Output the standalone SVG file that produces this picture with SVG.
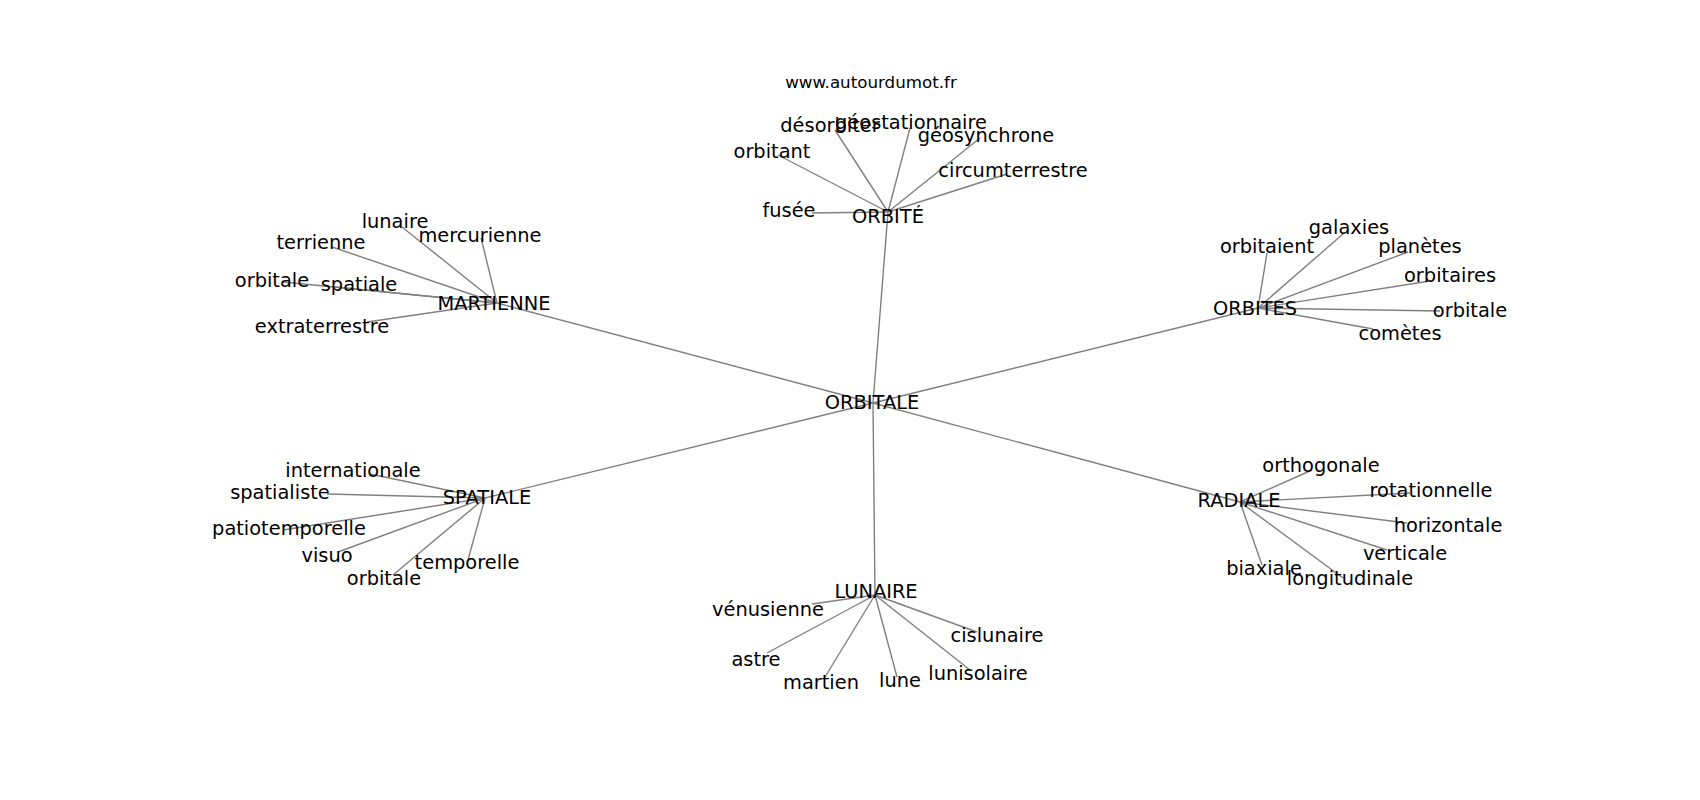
<svg xmlns="http://www.w3.org/2000/svg" width="1700" height="800" viewBox="0 0 1700 800">
<style>
.e{stroke:#808080;stroke-width:1.4;fill:none}
text{font-family:"DejaVu Sans","Liberation Sans",sans-serif;font-size:19.4px;fill:#000;text-anchor:middle}
.t{font-size:16.7px}
</style>
<rect width="1700" height="800" fill="#fff"/>
<g id="connectors">
<line class="e" x1="873" y1="403" x2="497" y2="303"/>
<line class="e" x1="873" y1="403" x2="888" y2="212"/>
<line class="e" x1="873" y1="403" x2="1258" y2="308"/>
<line class="e" x1="873" y1="403" x2="485" y2="498"/>
<line class="e" x1="873" y1="403" x2="1240" y2="502"/>
<line class="e" x1="873" y1="403" x2="875" y2="595"/>
<line class="e" x1="888" y1="212" x2="812" y2="213"/>
<line class="e" x1="888" y1="212" x2="778" y2="155"/>
<line class="e" x1="888" y1="212" x2="835" y2="130"/>
<line class="e" x1="888" y1="212" x2="910" y2="128"/>
<line class="e" x1="888" y1="212" x2="980" y2="138"/>
<line class="e" x1="888" y1="212" x2="1007" y2="174"/>
<line class="e" x1="497" y1="303" x2="402" y2="227"/>
<line class="e" x1="497" y1="303" x2="481" y2="238"/>
<line class="e" x1="497" y1="303" x2="332" y2="247"/>
<line class="e" x1="497" y1="303" x2="283" y2="282"/>
<line class="e" x1="497" y1="303" x2="335" y2="287"/>
<line class="e" x1="497" y1="303" x2="367" y2="322"/>
<line class="e" x1="1258" y1="308" x2="1267" y2="253"/>
<line class="e" x1="1258" y1="308" x2="1343" y2="234"/>
<line class="e" x1="1258" y1="308" x2="1408" y2="252"/>
<line class="e" x1="1258" y1="308" x2="1430" y2="281"/>
<line class="e" x1="1258" y1="308" x2="1440" y2="311"/>
<line class="e" x1="1258" y1="308" x2="1373" y2="329"/>
<line class="e" x1="485" y1="498" x2="370" y2="474"/>
<line class="e" x1="485" y1="498" x2="327" y2="494"/>
<line class="e" x1="485" y1="498" x2="283" y2="530"/>
<line class="e" x1="485" y1="498" x2="338" y2="552"/>
<line class="e" x1="485" y1="498" x2="393" y2="575"/>
<line class="e" x1="485" y1="498" x2="468" y2="560"/>
<line class="e" x1="1240" y1="502" x2="1312" y2="470"/>
<line class="e" x1="1240" y1="502" x2="1410" y2="493"/>
<line class="e" x1="1240" y1="502" x2="1407" y2="523"/>
<line class="e" x1="1240" y1="502" x2="1387" y2="550"/>
<line class="e" x1="1240" y1="502" x2="1262" y2="565"/>
<line class="e" x1="1240" y1="502" x2="1343" y2="578"/>
<line class="e" x1="875" y1="595" x2="812" y2="604"/>
<line class="e" x1="875" y1="595" x2="767" y2="653"/>
<line class="e" x1="875" y1="595" x2="825" y2="677"/>
<line class="e" x1="875" y1="595" x2="897" y2="677"/>
<line class="e" x1="875" y1="595" x2="970" y2="670"/>
<line class="e" x1="875" y1="595" x2="977" y2="632"/>
</g>
<text class="t" x="871" y="88">www.autourdumot.fr</text>
<g id="n-orbitale-c"><text x="872" y="409">ORBITALE</text></g>
<g id="n-orbite"><text x="888" y="223">ORBITÉ</text></g>
<g id="n-fusee"><text x="789" y="217">fusée</text></g>
<g id="n-orbitant"><text x="772" y="158">orbitant</text></g>
<g id="n-desorbiter"><text x="830" y="132">désorbiter</text></g>
<g id="n-geostationnaire"><text x="911" y="129">géostationnaire</text></g>
<g id="n-geosynchrone"><text x="986" y="142">géosynchrone</text></g>
<g id="n-circumterrestre"><text x="1013" y="177">circumterrestre</text></g>
<g id="n-martienne"><text x="494" y="310">MARTIENNE</text></g>
<g id="n-lunaire-m"><text x="395" y="228">lunaire</text></g>
<g id="n-mercurienne"><text x="480" y="242">mercurienne</text></g>
<g id="n-terrienne"><text x="321" y="249">terrienne</text></g>
<g id="n-orbitale-m"><text x="272" y="287">orbitale</text></g>
<g id="n-spatiale-m"><text x="359" y="291">spatiale</text></g>
<g id="n-extraterrestre"><text x="322" y="333">extraterrestre</text></g>
<g id="n-orbites"><text x="1255" y="315">ORBITES</text></g>
<g id="n-orbitaient"><text x="1267" y="253">orbitaient</text></g>
<g id="n-galaxies"><text x="1349" y="234">galaxies</text></g>
<g id="n-planetes"><text x="1420" y="253">planètes</text></g>
<g id="n-orbitaires"><text x="1450" y="282">orbitaires</text></g>
<g id="n-orbitale-o"><text x="1470" y="317">orbitale</text></g>
<g id="n-cometes"><text x="1400" y="340">comètes</text></g>
<g id="n-spatiale"><text x="487" y="504">SPATIALE</text></g>
<g id="n-internationale"><text x="353" y="477">internationale</text></g>
<g id="n-spatialiste"><text x="280" y="499">spatialiste</text></g>
<g id="n-patiotemporelle"><text x="289" y="535">patiotemporelle</text></g>
<g id="n-visuo"><text x="327" y="562">visuo</text></g>
<g id="n-orbitale-s"><text x="384" y="585">orbitale</text></g>
<g id="n-temporelle"><text x="467" y="569">temporelle</text></g>
<g id="n-radiale"><text x="1239" y="507">RADIALE</text></g>
<g id="n-orthogonale"><text x="1321" y="472">orthogonale</text></g>
<g id="n-rotationnelle"><text x="1431" y="497">rotationnelle</text></g>
<g id="n-horizontale"><text x="1448" y="532">horizontale</text></g>
<g id="n-verticale"><text x="1405" y="560">verticale</text></g>
<g id="n-biaxiale"><text x="1264" y="575">biaxiale</text></g>
<g id="n-longitudinale"><text x="1350" y="585">longitudinale</text></g>
<g id="n-lunaire"><text x="876" y="598">LUNAIRE</text></g>
<g id="n-venusienne"><text x="768" y="616">vénusienne</text></g>
<g id="n-astre"><text x="756" y="666">astre</text></g>
<g id="n-martien"><text x="821" y="689">martien</text></g>
<g id="n-lune"><text x="900" y="687">lune</text></g>
<g id="n-lunisolaire"><text x="978" y="680">lunisolaire</text></g>
<g id="n-cislunaire"><text x="997" y="642">cislunaire</text></g>
</svg>
